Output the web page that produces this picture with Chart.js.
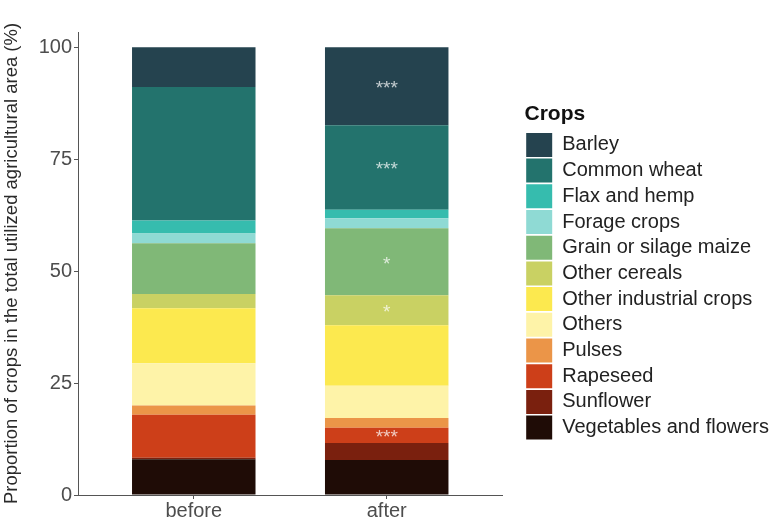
<!DOCTYPE html>
<html>
<head>
<meta charset="utf-8">
<script src="https://cdn.jsdelivr.net/npm/chart.js@4"></script>
<style>
  html, body { margin: 0; padding: 0; background: #ffffff; }
  canvas { display: block; }
</style>
</head>
<body>
<canvas id="chart" width="781" height="520"></canvas>
<script>
// Periods on the x axis
const periods = ['before', 'after'];

// Crops, listed top of the stack first (legend order)
const crops = [
  'Barley', 'Common wheat', 'Flax and hemp', 'Forage crops',
  'Grain or silage maize', 'Other cereals', 'Other industrial crops',
  'Others', 'Pulses', 'Rapeseed', 'Sunflower', 'Vegetables and flowers'
];

// Share of the utilized agricultural area (%), same order as crops
const before = [8.9, 29.8, 2.9, 2.2, 11.3, 3.2, 12.3, 9.4, 2.1, 9.6, 0.3, 8.0];
const after  = [17.4, 18.9, 1.9, 2.2, 15.0, 6.7, 13.5, 7.2, 2.2, 3.4, 3.8, 7.8];

// Significance of the change, shown on the "after" bar
const sigAfter = ['***', '***', '', '', '*', '*', '', '', '', '***', '', ''];

// Y axis tick values
const yTicks = [0, 25, 50, 75, 100];

const cropColors = [
  '#25434f', '#23736d', '#36bcae', '#8fdad4', '#80b877', '#c9d163',
  '#fce94f', '#fef3a8', '#eb9548', '#cd3f19', '#7a200e', '#1f0c06'
];

const FONT = '"Liberation Sans", Arial, Helvetica, sans-serif';
Chart.defaults.font.family = FONT;

// Build one stacked dataset per crop; the bottom of the stack comes first
const datasets = crops.map((name, i) => ({
  label: name,
  data: [{ x: 1, y: before[i] }, { x: 2, y: after[i] }],
  sig: ['', sigAfter[i]],
  backgroundColor: cropColors[i],
  borderWidth: 0,
  categoryPercentage: 0.64,
  barPercentage: 1.0
})).reverse();

// Writes the significance stars in the middle of each segment
const sigLabels = {
  id: 'sigLabels',
  afterDatasetsDraw(chart) {
    const ctx = chart.ctx;
    const size = 19;
    ctx.save();
    ctx.font = size + 'px ' + FONT;
    ctx.fillStyle = 'rgba(255,255,255,0.72)';
    ctx.textAlign = 'center';
    ctx.textBaseline = 'alphabetic';
    chart.data.datasets.forEach((ds, di) => {
      const meta = chart.getDatasetMeta(di);
      meta.data.forEach((bar, j) => {
        const s = ds.sig[j];
        if (!s) return;
        const mid = (bar.y + bar.base) / 2;
        ctx.fillText(s, bar.x, mid + 0.42 * size);
      });
    });
    ctx.restore();
  }
};

new Chart(document.getElementById('chart'), {
  type: 'bar',
  data: { datasets },
  plugins: [sigLabels],
  options: {
    responsive: false,
    animation: false,
    layout: { padding: { top: 32, right: 2, bottom: 0, left: 0 } },
    plugins: {
      tooltip: { enabled: false },
      legend: {
        position: 'right',
        align: 'start',
        reverse: true,
        maxWidth: 300,
        title: {
          display: true,
          text: 'Crops',
          position: 'start',
          color: '#111111',
          font: { size: 21, weight: 'bold', family: FONT },
          padding: { top: 72, bottom: 2 }
        },
        labels: {
          boxWidth: 26,
          boxHeight: 24,
          padding: 1.7,
          color: '#222222',
          font: { size: 20, family: FONT }
        }
      }
    },
    scales: {
      x: {
        type: 'linear',
        stacked: true,
        offset: false,
        min: 0.4,
        max: 2.6,
        afterBuildTicks: s => { s.ticks = periods.map((p, i) => ({ value: i + 1 })); },
        afterFit: s => { s.height = 25; },
        ticks: {
          callback: (v, i) => periods[i],
          color: '#4d4d4d',
          font: { size: 20 },
          padding: 0,
          maxRotation: 0,
          autoSkip: false
        },
        grid: { offset: false, drawOnChartArea: false, tickLength: 4, color: '#555555', tickColor: '#555555' },
        border: { display: true, color: '#555555', width: 1 }
      },
      y: {
        stacked: true,
        min: 0,
        max: 103.4,
        afterBuildTicks: s => { s.ticks = yTicks.map(v => ({ value: v })); },
        afterFit: s => { s.width = 78; },
        ticks: { color: '#4d4d4d', font: { size: 20 }, padding: 2 },
        grid: { drawOnChartArea: false, tickLength: 4, color: '#555555', tickColor: '#555555' },
        border: { display: true, color: '#555555', width: 1 },
        title: {
          display: true,
          text: 'Proportion of crops in the total utilized agricultural area (%)',
          color: '#2a2a2a',
          font: { size: 18.5, family: FONT },
          padding: { top: 1, bottom: 0 }
        }
      },
      gap: {
        type: 'linear',
        position: 'right',
        display: true,
        afterFit: s => { s.width = 22; },
        ticks: { display: false },
        grid: { display: false, drawTicks: false },
        border: { display: false }
      }
    }
  }
});
</script>
</body>
</html>
